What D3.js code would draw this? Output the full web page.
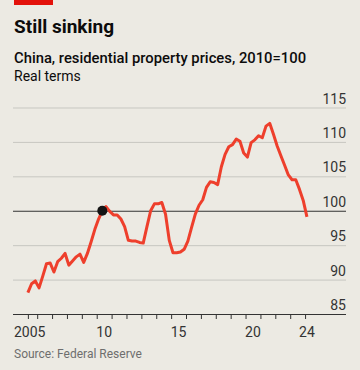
<!DOCTYPE html>
<html>
<head>
<meta charset="utf-8">
<script src="https://cdn.jsdelivr.net/npm/d3@7"></script>
<style>
  html, body { margin: 0; padding: 0; background: #ECEAE3; }
  svg { display: block; font-family: Roboto, "Noto Sans", sans-serif; }
</style>
</head>
<body>
<svg id="chart" width="360" height="370"></svg>
<script>
// ---- Data (quarterly, real residential property prices, 2010=100) ----
const quarters = [
  "2005Q2","2005Q3","2005Q4",
  "2006Q1","2006Q2","2006Q3","2006Q4",
  "2007Q1","2007Q2","2007Q3","2007Q4",
  "2008Q1","2008Q2","2008Q3","2008Q4",
  "2009Q1","2009Q2","2009Q3","2009Q4",
  "2010Q1","2010Q2","2010Q3","2010Q4",
  "2011Q1","2011Q2","2011Q3","2011Q4",
  "2012Q1","2012Q2","2012Q3","2012Q4",
  "2013Q1","2013Q2","2013Q3","2013Q4",
  "2014Q1","2014Q2","2014Q3","2014Q4",
  "2015Q1","2015Q2","2015Q3","2015Q4",
  "2016Q1","2016Q2","2016Q3","2016Q4",
  "2017Q1","2017Q2","2017Q3","2017Q4",
  "2018Q1","2018Q2","2018Q3","2018Q4",
  "2019Q1","2019Q2","2019Q3","2019Q4",
  "2020Q1","2020Q2","2020Q3","2020Q4",
  "2021Q1","2021Q2","2021Q3","2021Q4",
  "2022Q1","2022Q2","2022Q3","2022Q4",
  "2023Q1","2023Q2","2023Q3","2023Q4",
  "2024Q1"
];
const prices = [
  88.1, 89.4, 89.8,
  88.8, 90.5, 92.3, 92.4,
  91.1, 92.6, 93.1, 93.8,
  92.1, 92.7, 93.3, 93.7,
  92.5, 93.8, 95.5, 97.3,
  98.8, 100.0, 100.6, 99.9,
  99.4, 99.4, 98.8, 97.7,
  95.7, 95.6, 95.6, 95.4,
  95.3, 97.7, 100.0, 101.0,
  101.0, 101.2, 99.5, 95.7,
  93.9, 93.9, 94.0, 94.4,
  95.6, 97.6, 99.5, 100.8,
  101.6, 103.4, 104.2, 104.1,
  103.8, 106.4, 108.2, 109.3,
  109.6, 110.4, 110.1, 108.4,
  107.8, 109.9, 110.3, 110.9,
  110.6, 112.3, 112.7, 111.1,
  109.4, 108.0, 106.6, 105.2,
  104.5, 104.5, 103.1, 101.5,
  99.1
];
const baseValue = 100;
const baseQuarter = "2010Q2";
const xTickYears = [2005, 2010, 2015, 2020, 2024];
const xTickLabels = ["2005", "10", "15", "20", "24"];
const yTicks = [85, 90, 95, 100, 105, 110, 115];

const titleText = "Still sinking";
const subtitleText = "China, residential property prices, 2010=100";
const subtitle2Text = "Real terms";
const sourceText = "Source: Federal Reserve";

// ---- Build ----
const toYear = q => +q.slice(0, 4) + (+q.slice(5) - 1) / 4 + 0.125;
const data = quarters.map((q, i) => ({ q, t: toYear(q), v: prices[i] }));

const svg = d3.select("#chart");
const plotLeft = 13, plotRight = 346, plotTop = 107.5, plotBottom = 314;

const x = d3.scaleLinear().domain([2004.375, 2026.75]).range([plotLeft, plotRight]);
const y = d3.scaleLinear().domain([85, 115]).range([plotBottom, plotTop]);

// red tag
svg.append("rect").attr("x", 14).attr("y", 0).attr("width", 39).attr("height", 5).attr("fill", "#E3120B");

svg.append("text").attr("x", 14).attr("y", 33)
  .attr("font-size", 19).attr("font-weight", 700).attr("fill", "#0C0C0C").text(titleText);
svg.append("text").attr("x", 14).attr("y", 62.5)
  .attr("font-size", 14.8).attr("font-weight", 500).attr("fill", "#0C0C0C").text(subtitleText);
svg.append("text").attr("x", 14).attr("y", 81)
  .attr("font-size", 14).attr("fill", "#0C0C0C").text(subtitle2Text);

// grid + y labels
const yAxis = d3.axisRight(y).tickValues(yTicks).tickSize(plotRight - plotLeft).tickFormat(d3.format("d"));
const gy = svg.append("g").attr("transform", `translate(${plotLeft},0)`).call(yAxis);
gy.select(".domain").remove();
gy.selectAll(".tick line")
  .attr("stroke", d => (d === baseValue || d === 85) ? "#333" : "#C7C7C1")
  .attr("stroke-width", d => (d === baseValue || d === 85) ? 1.2 : 1);
gy.selectAll(".tick text")
  .attr("x", plotRight - plotLeft).attr("dy", -4.5).attr("text-anchor", "end")
  .attr("font-size", 14).attr("font-family", "Roboto, sans-serif").attr("fill", "#333");

// x ticks at year boundaries
const firstT = data[0].t, lastT = data[data.length - 1].t;
const tickYears = d3.range(Math.ceil(firstT), Math.floor(lastT) + 1);
const gx = svg.append("g").attr("transform", `translate(0,${plotBottom})`)
  .call(d3.axisBottom(x).tickValues([firstT, ...tickYears]).tickSize(5).tickFormat(""));
gx.select(".domain").remove();
gx.selectAll(".tick line").attr("stroke", "#333").attr("stroke-width", 1);

// x labels centred on the year (clipped to data end)
svg.append("g").selectAll("text").data(xTickYears).join("text")
  .attr("x", d => x(Math.min(d + 0.5, lastT)))
  .attr("y", 336.5)
  .attr("text-anchor", "middle")
  .attr("font-size", 14).attr("fill", "#333")
  .text((d, i) => xTickLabels[i]);

// line
const line = d3.line().x(d => x(d.t)).y(d => y(d.v));
svg.append("path").datum(data)
  .attr("d", line).attr("fill", "none")
  .attr("stroke", "#EE3F2C").attr("stroke-width", 3)
  .attr("stroke-linejoin", "round").attr("stroke-linecap", "butt");

// base dot
const bd = data.find(d => d.q === baseQuarter);
svg.append("circle").attr("cx", x(bd.t)).attr("cy", y(baseValue)).attr("r", 5).attr("fill", "#141414");

svg.append("text").attr("x", 14).attr("y", 358)
  .attr("font-size", 12).attr("fill", "#6E6E6E").text(sourceText);
</script>
</body>
</html>
